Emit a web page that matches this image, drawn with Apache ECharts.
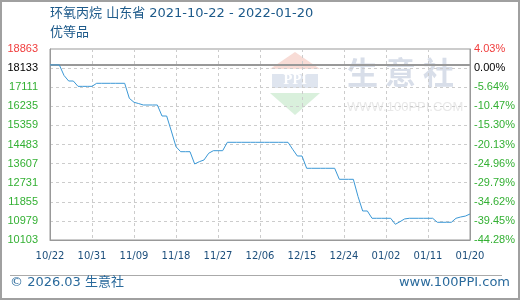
<!DOCTYPE html>
<html>
<head>
<meta charset="utf-8">
<script src="https://cdn.jsdelivr.net/npm/echarts@6/dist/echarts.min.js"></script>
<style>html,body{margin:0;padding:0;background:#fff;}#c{width:520px;height:300px;}</style>
</head>
<body>
<div id="c"></div>
<script>
// ---- data ----
const TITLE = '环氧丙烷 山东省 2021-10-22 - 2022-01-20';
const SUBTITLE = '优等品';
const START_DATE = '2021-10-22';
const DAYS = 91;
const BASE = 10103;      // axis minimum
const STEP = 876;        // axis interval
const START = 18133;     // price on first day (0.00%)
const prices = [
  18133, 18133, 18133, 17650, 17395, 17395, 17150, 17150, 17150, 17150,
  17290, 17290, 17290, 17290, 17290, 17290, 17290, 16600, 16419, 16360,
  16295, 16295, 16295, 16295, 15790, 15790, 15100, 14380, 14153, 14153,
  14153, 13589, 13695, 13773, 14080, 14199, 14199, 14199, 14584, 14584,
  14584, 14584, 14584, 14584, 14584, 14584, 14584, 14584, 14584, 14584,
  14584, 14584, 14263, 13956, 13956, 13392, 13392, 13392, 13392, 13392,
  13392, 13392, 12887, 12887, 12887, 12887, 12100, 11434, 11434, 11099,
  11099, 11099, 11099, 11099, 10824, 10943, 11070, 11099, 11099, 11099,
  11099, 11099, 11099, 10915, 10915, 10915, 10915, 11099, 11158, 11200,
  11296
];

// categories: consecutive days MM/DD
const categories = [];
(function(){
  const d = new Date(START_DATE + 'T00:00:00Z');
  for (let i = 0; i < DAYS; i++) {
    const m = String(d.getUTCMonth() + 1).padStart(2, '0');
    const dd = String(d.getUTCDate()).padStart(2, '0');
    categories.push(m + '/' + dd);
    d.setUTCDate(d.getUTCDate() + 1);
  }
})();

const seriesData = prices.map(v => v - BASE);

const chart = echarts.init(document.getElementById('c'), null, {renderer: 'canvas'});

function tickIndex(v){ return Math.round(v / STEP); }
function leftLabel(v){
  const i = tickIndex(v);
  if (i === 10) return '{r|' + (BASE + v) + '}';
  if (i === 9) return '{k|' + START + '}';
  return '{g|' + (BASE + v) + '}';
}
function rightLabel(v){
  const i = tickIndex(v);
  if (i === 9) return '{k|0.00%}';
  const p = ((BASE + v) / START - 1) * 100;
  const s = p.toFixed(2) + '%';
  return (i === 10 ? '{r|' : '{g|') + s + '}';
}
const rich = {
  r: {color: '#f03c3c', fontFamily: 'Liberation Sans', fontSize: 11},
  k: {color: '#000000', fontFamily: 'Liberation Sans', fontSize: 11},
  g: {color: '#33b033', fontFamily: 'Liberation Sans', fontSize: 11}
};

const option = {
  animation: false,
  backgroundColor: '#ffffff',
  grid: {left: 50, right: 50, top: 49, bottom: 60, show: true, borderColor: '#999', borderWidth: 1},
  xAxis: {
    type: 'category',
    data: categories,
    boundaryGap: false,
    axisLine: {show: true, lineStyle: {color: '#999', width: 1}},
    axisTick: {show: false},
    axisLabel: {interval: 8, color: '#1d4f7c', fontFamily: 'DejaVu Sans', fontSize: 10, margin: 11},
    splitLine: {show: true, interval: 8, lineStyle: {color: '#cccccc', type: [3, 3], width: 1}}
  },
  yAxis: [
    {
      type: 'value', min: 0, max: STEP * 10, interval: STEP, position: 'left',
      axisLine: {show: true, lineStyle: {color: '#999'}},
      axisTick: {show: false},
      axisLabel: {formatter: leftLabel, rich: rich, margin: 12, align: 'right'},
      splitLine: {show: true, lineStyle: {color: '#cccccc', type: [3, 3], width: 1}}
    },
    {
      type: 'value', min: 0, max: STEP * 10, interval: STEP, position: 'right',
      axisLine: {show: true, lineStyle: {color: '#999'}},
      axisTick: {show: false},
      axisLabel: {formatter: rightLabel, rich: rich, margin: 4, align: 'left'},
      splitLine: {show: false}
    }
  ],
  series: [{
    type: 'line',
    data: seriesData,
    showSymbol: false,
    symbol: 'none',
    lineStyle: {color: '#3b98d6', width: 1},
    z: 5,
    markLine: {
      silent: true,
      symbol: 'none',
      label: {show: false},
      lineStyle: {color: '#999999', width: 2, type: 'solid'},
      data: [{yAxis: START - BASE}]
    }
  }],
  graphic: [
    {type: 'rect', shape: {x: 1, y: 1, width: 518, height: 298}, style: {fill: 'none', stroke: '#a0a0a0', lineWidth: 2}, z: 100},
    {type: 'text', left: 50, top: 7, style: {text: TITLE, fill: '#1d5a8a', font: '13px "DejaVu Sans", "Noto Sans CJK SC"'}},
    {type: 'text', left: 50, top: 25, style: {text: SUBTITLE, fill: '#1d5a8a', font: '13px "Noto Sans CJK SC"'}},
    {type: 'line', shape: {x1: 10, y1: 275.5, x2: 502, y2: 275.5}, style: {stroke: '#aaaaaa', lineWidth: 1}},
    {type: 'text', left: 10, top: 276, style: {text: '© 2026.03 生意社', fill: '#2a6a9c', font: '13px "DejaVu Sans", "Noto Sans CJK SC"'}},
    {type: 'text', right: 10, top: 276, style: {text: 'www.100PPI.com', fill: '#2a6a9c', font: '13px "DejaVu Sans"'}},
    // watermark
    {type: 'polygon', shape: {points: [[270, 69], [320, 69], [295, 52]]}, style: {fill: '#f8dcd6'}, z: -1},
    {type: 'rect', shape: {x: 272, y: 74, width: 46, height: 14}, style: {fill: '#dfe5ef'}, z: -1},
    {type: 'text', x: 295, y: 81, style: {text: 'PPI', fill: '#ffffff', font: 'bold 12px "DejaVu Serif"', align: 'center', verticalAlign: 'middle'}, z: -1},
    {type: 'polygon', shape: {points: [[270, 93], [320, 93], [295, 115]]}, style: {fill: '#d9f0dc'}, z: -1},
    {type: 'text', x: 347, y: 72, style: {text: '生 意 社', fill: '#d8dee9', font: 'bold 31px "Noto Sans CJK SC"', verticalAlign: 'middle'}, z: -1},
    {type: 'text', x: 347, y: 107, style: {text: 'WWW.100PPI.COM', fill: '#e8e8e8', font: '13px "Liberation Sans"', verticalAlign: 'middle'}, z: -1}
  ]
};
chart.setOption(option);
</script>
</body>
</html>
